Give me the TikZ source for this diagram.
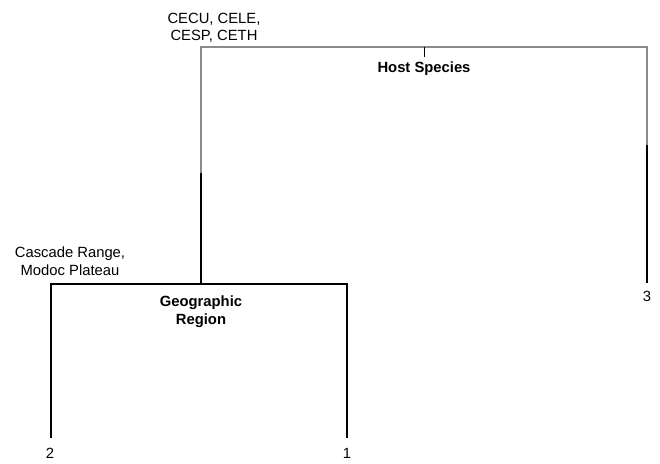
\documentclass[tikz,border=0pt]{standalone}
\usepackage{fontspec}
\setmainfont{Liberation Sans}
\begin{document}
\begin{tikzpicture}[x=1pt,y=-1pt,
  lab/.style={font=\fontsize{14.8}{17.5}\selectfont, align=center, inner sep=0pt},
  blab/.style={lab, font=\fontsize{14.8}{18}\selectfont\bfseries},
  thin gray/.style={draw=black!45, line width=1.1pt},
  thick black/.style={draw=black, line width=1.7pt},
  branch/.style={draw=black, line width=1.2pt}]
\useasboundingbox (0,0) rectangle (660,463);
% junction coordinates
\coordinate (tl) at (201,47);
\coordinate (tr) at (647,47);
\coordinate (tmid) at (424,47);
\coordinate (tick) at (424,57);
\coordinate (lm) at (201,173);
\coordinate (rm) at (647,145);
\coordinate (ljoin) at (201,284);
\coordinate (r3) at (647,283);
\coordinate (bl) at (51,284);
\coordinate (br) at (347,284);
\coordinate (b2) at (51,438);
\coordinate (b1) at (347,438);
% top branch
\draw[thin gray] (lm) -- (tl) -- (tr) -- (rm);
\draw[thick black] (lm) -- (ljoin);
\draw[thick black] (rm) -- (r3);
\draw[draw=black, line width=0.8pt] (tmid) -- (tick);
% lower branch
\draw[branch] (b2) -- (bl) -- (br) -- (b1);
% labels
\node[lab] (toplab) at (214,28) {CECU, CELE,\\CESP, CETH};
\node[blab] (host) at (424,69) {Host Species};
\node[lab] (casc) at (70,261) {Cascade Range,\\Modoc Plateau};
\node[blab] (geo) at (201,312) {Geographic\\Region};
\node[lab] (n3) at (647,296) {3};
\node[lab] (n2) at (50,453) {2};
\node[lab] (n1) at (347,453) {1};
\end{tikzpicture}
\end{document}
